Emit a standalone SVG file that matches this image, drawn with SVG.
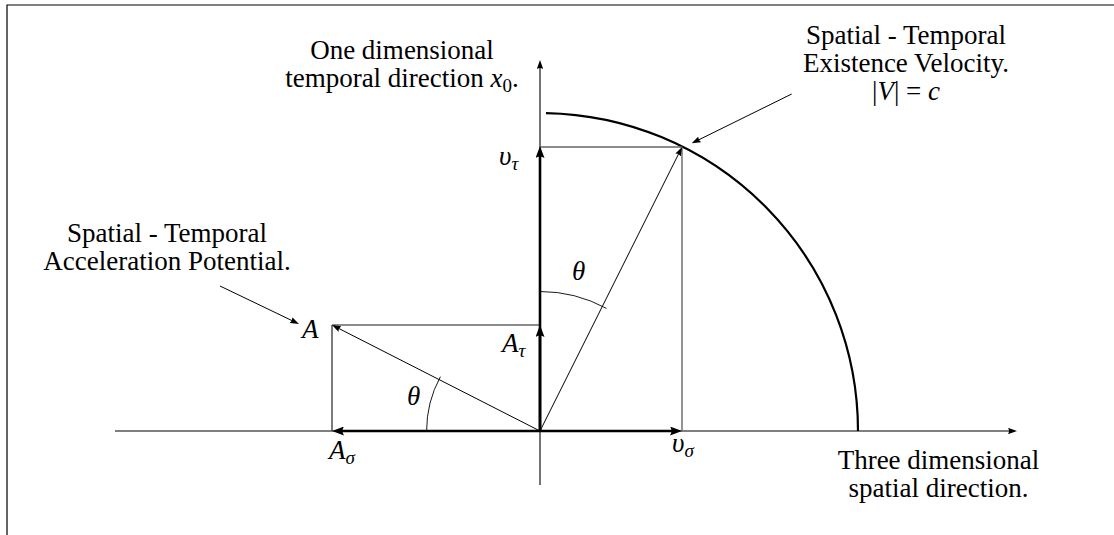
<svg xmlns="http://www.w3.org/2000/svg" width="1114" height="535" viewBox="0 0 1114 535">
<style>
  text { font-family: "Liberation Serif", "Times New Roman", serif; font-size: 27px; fill: #000; }
  .m { font-style: italic; }
  .sub { font-size: 19px; }
  .axis { stroke: #000; stroke-width: 1.1; fill: none; }
  .thick { stroke: #000; stroke-width: 2.6; fill: none; }
  .thin { stroke: #000; stroke-width: 1; fill: none; }
  .gray { stroke: #666; stroke-width: 1.4; fill: none; }
  .arc { stroke: #000; stroke-width: 2.2; fill: none; }
  .ang { stroke: #000; stroke-width: 0.9; fill: none; }
  .frame { stroke: #000; stroke-width: 1.2; fill: none; }
</style>
<defs>
  <marker id="big" viewBox="0 0 12 9" markerWidth="12" markerHeight="9" refX="6" refY="4.5" orient="auto" markerUnits="userSpaceOnUse">
    <path d="M0,0 Q3,4.5 0,9 L12,4.5 Z" fill="#000"/>
  </marker>
  <marker id="small" viewBox="0 0 9 6.4" markerWidth="9" markerHeight="6.4" refX="4" refY="3.2" orient="auto" markerUnits="userSpaceOnUse">
    <path d="M0,0 Q2,3.2 0,6.4 L9,3.2 Z" fill="#000"/>
  </marker>
</defs>
<rect width="1114" height="535" fill="#fff"/>
<g id="frame">
  <path class="frame" d="M7,535 L7,5 L1114,5"/>
</g>
<g id="connectors">
  <line id="x-axis" class="axis" x1="115" y1="431" x2="1012" y2="431" marker-end="url(#small)"/>
  <line id="t-axis" class="axis" x1="540" y1="485" x2="540" y2="65" marker-end="url(#small)"/>
  <path id="circle" class="arc" d="M546,113.06 A318,318 0 0 1 858,431"/>
  <line class="gray" x1="540" y1="147" x2="682" y2="147"/>
  <line class="gray" x1="682" y1="147" x2="682" y2="431"/>
  <line class="gray" x1="332" y1="325" x2="540" y2="325"/>
  <line class="gray" x1="332" y1="325" x2="332" y2="431" style="stroke:#444"/>
  <line id="v-tau" class="thick" x1="540" y1="431" x2="540" y2="152" marker-end="url(#big)"/>
  <line id="v-sigma" class="thick" x1="540" y1="431" x2="676" y2="431" marker-end="url(#big)"/>
  <line id="a-tau" class="thick" x1="540" y1="431" x2="540" y2="331" marker-end="url(#big)"/>
  <line id="a-sigma" class="thick" x1="540" y1="431" x2="338" y2="431" marker-end="url(#big)"/>
  <line id="V" class="thin" x1="540" y1="431" x2="679.8" y2="151.5" marker-end="url(#small)"/>
  <line id="A" class="thin" x1="540" y1="431" x2="336.5" y2="327.3" marker-end="url(#small)"/>
  <path class="ang" d="M540,291.5 A139.5,139.5 0 0 1 606.5,308.4"/>
  <path class="ang" d="M426.6,431 A113.4,113.4 0 0 1 440.4,376.7"/>
  <line class="thin" x1="791.7" y1="94" x2="696.2" y2="141.1" marker-end="url(#small)"/>
  <line class="thin" x1="220" y1="286" x2="294.5" y2="321.8" marker-end="url(#small)"/>
</g>
<g id="label-temporal">
  <text x="402" y="59" text-anchor="middle">One dimensional</text>
  <text x="402" y="87" text-anchor="middle">temporal direction <tspan class="m">x</tspan><tspan class="sub" dy="5">0</tspan><tspan dy="-5">.</tspan></text>
</g>
<g id="label-velocity">
  <text x="906" y="44" text-anchor="middle">Spatial - Temporal</text>
  <text x="906" y="72" text-anchor="middle">Existence Velocity.</text>
  <text x="906" y="100" text-anchor="middle">|<tspan class="m">V</tspan>| = <tspan class="m">c</tspan></text>
</g>
<g id="label-acceleration">
  <text x="167" y="242" text-anchor="middle">Spatial - Temporal</text>
  <text x="167" y="270" text-anchor="middle">Acceleration Potential.</text>
</g>
<g id="label-spatial">
  <text x="938.5" y="469" text-anchor="middle">Three dimensional</text>
  <text x="938.5" y="497" text-anchor="middle">spatial direction.</text>
</g>
<g id="math-labels">
  <text x="499" y="165" class="m">υ<tspan class="sub" dy="5">τ</tspan></text>
  <text x="502" y="352" class="m">A<tspan class="sub" dy="5">τ</tspan></text>
  <text x="302" y="338" class="m">A</text>
  <text x="329" y="459" class="m">A<tspan class="sub" dy="5">σ</tspan></text>
  <text x="672" y="452" class="m">υ<tspan class="sub" dy="5">σ</tspan></text>
  <text x="572" y="280" class="m">θ</text>
  <text x="407" y="405" class="m">θ</text>
</g>
</svg>
